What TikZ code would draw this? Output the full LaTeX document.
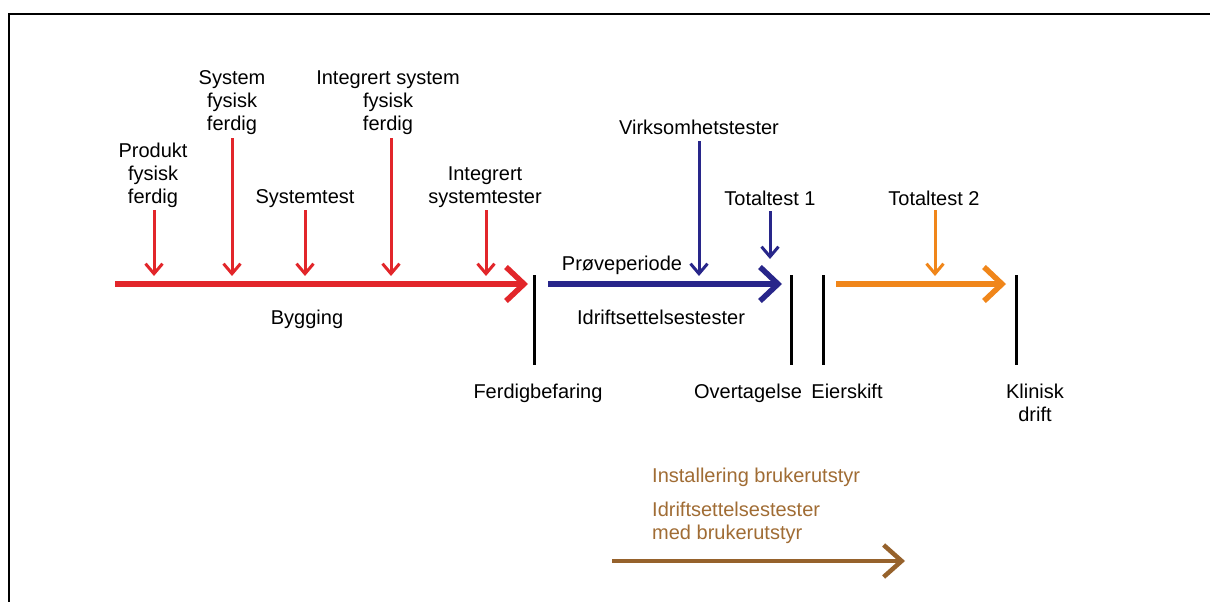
\documentclass[tikz,border=0pt]{standalone}
\usepackage{fontspec}
\setmainfont{Liberation Sans}
\usetikzlibrary{arrows.meta}
\definecolor{bred}{RGB}{226,38,42}
\definecolor{bnavy}{RGB}{40,38,138}
\definecolor{borange}{RGB}{240,134,26}
\definecolor{bbrown}{RGB}{150,98,44}
\definecolor{bbrowntext}{RGB}{160,108,52}
\tikzset{
  lbl/.style={inner sep=0pt, align=center, font=\fontsize{20}{23}\selectfont},
  one/.style={lbl, anchor=base},
  phase/.style={line width=5.5pt, -{Straight Barb[length=18pt,width=34pt]}},
  event/.style={line width=3pt, -{Straight Barb[length=10pt,width=17pt]}},
  milestone/.style={line width=3pt, black},
}
\begin{document}
\begin{tikzpicture}[x=1pt,y=-1pt]
\useasboundingbox (0,0) rectangle (1210,602);
\clip (0,0) rectangle (1210,602);
% outer frame
\draw[line width=2.2pt] (1215,14) -- (9,14) -- (9,610);

% ---- construction phase (red)
\coordinate (b0) at (115,284);
\coordinate (b1) at (528,284);
\draw[phase, bred] (b0) -- (b1);
\node[one] (bygg) at (307,324) {Bygging};

\node[lbl] (produkt) at (153,175) {Produkt\\fysisk\\ferdig};
\node[lbl] (sysfys) at (232,103) {System\\fysisk\\ferdig};
\node[one] (systest) at (305,203) {Systemtest};
\node[lbl] (intsys) at (388,103) {Integrert system\\fysisk\\ferdig};
\node[lbl] (inttest) at (485,187) {Integrert\\systemtester};

\coordinate (p1) at (154,276);
\coordinate (p2) at (232,276);
\coordinate (p3) at (305,276);
\coordinate (p4) at (391,276);
\coordinate (p5) at (486,276);
\draw[event, bred] (154,210) -- (p1);
\draw[event, bred] (232,138) -- (p2);
\draw[event, bred] (305,210) -- (p3);
\draw[event, bred] (391,138) -- (p4);
\draw[event, bred] (486,210) -- (p5);

% ---- milestones (black)
\draw[milestone] (534,275) coordinate (m1) -- (534,365);
\node[one] (ferdig) at (538,398) {Ferdigbefaring};
\draw[milestone] (791,275) coordinate (m2) -- (791,365);
\node[one] (overt) at (748,398) {Overtagelse};
\draw[milestone] (823,275) coordinate (m3) -- (823,365);
\node[one] (eier) at (847,398) {Eierskift};
\draw[milestone] (1016,275) coordinate (m4) -- (1016,365);
\node[lbl, anchor=north] (klinisk) at (1035,384) {Klinisk\\drift};

% ---- trial period (navy)
\coordinate (c0) at (548,284);
\coordinate (c1) at (782,284);
\draw[phase, bnavy] (c0) -- (c1);
\node[one] (prove) at (622,270) {Prøveperiode};
\node[one] (idrift) at (661,324) {Idriftsettelsestester};
\node[one] (virk) at (699,134) {Virksomhetstester};
\node[one] (tot1) at (770,205) {Totaltest 1};
\coordinate (v1) at (699,276);
\coordinate (t1) at (770,259);
\draw[event, bnavy] (699,141) -- (v1);
\draw[event, bnavy] (770,211) -- (t1);

% ---- after handover (orange)
\coordinate (d0) at (836,284);
\coordinate (d1) at (1006,284);
\draw[phase, borange] (d0) -- (d1);
\node[one] (tot2) at (934,205) {Totaltest 2};
\coordinate (t2) at (935,276);
\draw[event, borange] (935,210) -- (t2);

% ---- user equipment (brown)
\node[one, anchor=base west, text=bbrowntext] (inst) at (652,482) {Installering brukerutstyr};
\node[lbl, anchor=north west, text=bbrowntext, align=left] (idmed) at (652,502) {Idriftsettelsestester\\med brukerutstyr};
\coordinate (e0) at (612,561);
\coordinate (e1) at (905,561);
\draw[bbrown, line width=4.5pt, -{Straight Barb[length=18pt,width=32pt]}] (e0) -- (e1);
\end{tikzpicture}
\end{document}
